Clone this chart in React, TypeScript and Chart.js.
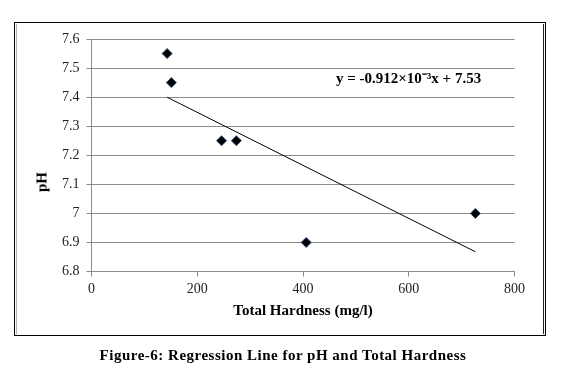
import React, { useEffect, useRef } from "react";
import { Chart, registerables } from "chart.js";

Chart.register(...registerables);

// Data
const hardness = [143, 151, 246, 274, 406, 726];
const pHValues = [7.55, 7.45, 7.25, 7.25, 6.9, 7.0];

// Regression line as printed on the chart: y = -0.912e-3 x + 7.53
const slope = -0.000912;
const intercept = 7.53;

const xTicks = [0, 200, 400, 600, 800];
const yTicks = [6.8, 6.9, 7.0, 7.1, 7.2, 7.3, 7.4, 7.5, 7.6];

const xTitle = "Total Hardness (mg/l)";
const yTitle = "pH";
const equationText = "y = -0.912×10⁻³x + 7.53";
const captionText = "Figure-6: Regression Line for pH and Total Hardness";

const SERIF = "'Liberation Serif', 'Times New Roman', serif";
const GRID = "#8a8a8a";

export default function App() {
  const canvasRef = useRef<HTMLCanvasElement | null>(null);

  useEffect(() => {
    const canvas = canvasRef.current;
    if (!canvas) return;
    const xMin = Math.min(...hardness);
    const xMax = Math.max(...hardness);
    const points = hardness.map((x, i) => ({ x, y: pHValues[i] }));
    const trend = [
      { x: xMin, y: slope * xMin + intercept },
      { x: xMax, y: slope * xMax + intercept },
    ];

    const chart = new Chart(canvas, {
      type: "scatter",
      data: {
        datasets: [
          {
            type: "line",
            label: "Regression",
            data: trend,
            borderColor: "#000",
            borderWidth: 1,
            pointRadius: 0,
            fill: false,
            order: 2,
          },
          {
            label: "pH",
            data: points,
            pointStyle: "rectRot",
            pointRadius: 5,
            backgroundColor: "#000",
            borderColor: "#2b4a78",
            borderWidth: 1,
            order: 1,
          },
        ],
      },
      options: {
        responsive: false,
        animation: false,
        devicePixelRatio: 1,
        layout: { padding: { left: 16, right: 51.5, top: 39, bottom: 44 } },
        plugins: {
          legend: { display: false },
          tooltip: { enabled: false },
        },
        scales: {
          x: {
            type: "linear",
            min: 0,
            max: 800,
            afterBuildTicks: (scale: any) => {
              scale.ticks = xTicks.map((v) => ({ value: v }));
            },
            afterFit: (scale: any) => {
              scale.height = 62.5;
            },
            grid: {
              display: true,
              drawOnChartArea: false,
              drawTicks: true,
              tickLength: 5,
              color: GRID,
            },
            border: { display: true, color: GRID },
            ticks: {
              color: "#222",
              padding: 4,
              font: { family: SERIF, size: 14 },
              callback: (v: any) => String(v),
            },
            title: {
              display: true,
              text: xTitle,
              color: "#000",
              font: { family: SERIF, size: 15, weight: "bold" },
              padding: { top: 0, bottom: 14 },
            },
          },
          y: {
            type: "linear",
            min: 6.8,
            max: 7.6,
            afterBuildTicks: (scale: any) => {
              scale.ticks = yTicks.map((v) => ({ value: v }));
            },
            afterFit: (scale: any) => {
              scale.width = 75.5;
            },
            grid: {
              display: true,
              drawTicks: true,
              tickLength: 5,
              color: GRID,
            },
            border: { display: true, color: GRID },
            ticks: {
              color: "#222",
              padding: 7,
              font: { family: SERIF, size: 14 },
              callback: (v: any) => String(Math.round(Number(v) * 10) / 10),
            },
          },
        },
      },
    });
    return () => chart.destroy();
  }, []);

  return (
    <div style={{ position: "absolute", left: 0, top: 0, width: 566, height: 378, background: "#fff" }}>
      <div
        style={{
          position: "absolute",
          left: 14,
          top: 22,
          width: 532,
          height: 314,
          boxSizing: "border-box",
          border: "1.5px solid #000",
        }}
      />
      <div
        style={{
          position: "absolute",
          left: 16,
          top: 24,
          width: 528,
          height: 310,
          boxSizing: "border-box",
          borderLeft: "1px solid #b0b0b0",
          borderRight: "1px solid #222",
        }}
      />
      <canvas
        ref={canvasRef}
        width={566}
        height={378}
        style={{ position: "absolute", left: 0, top: 0, width: 566, height: 378 }}
      />
      <div
        style={{
          position: "absolute",
          left: 42,
          top: 182,
          transform: "translate(-50%, -50%) rotate(-90deg)",
          fontFamily: SERIF,
          fontWeight: "bold",
          fontSize: 15,
          lineHeight: "15px",
          color: "#000",
          whiteSpace: "nowrap",
        }}
      >
        {yTitle}
      </div>
      <div
        style={{
          position: "absolute",
          left: 336,
          top: 71,
          fontFamily: SERIF,
          fontWeight: "bold",
          fontSize: 15,
          lineHeight: "15px",
          color: "#000",
          whiteSpace: "nowrap",
        }}
      >
        {equationText}
      </div>
      <div
        style={{
          position: "absolute",
          left: 0,
          width: 566,
          top: 348,
          textAlign: "center",
          fontFamily: SERIF,
          fontWeight: "bold",
          fontSize: 15,
          lineHeight: "15px",
          letterSpacing: "0.5px",
          color: "#000",
          whiteSpace: "nowrap",
        }}
      >
        {captionText}
      </div>
    </div>
  );
}
